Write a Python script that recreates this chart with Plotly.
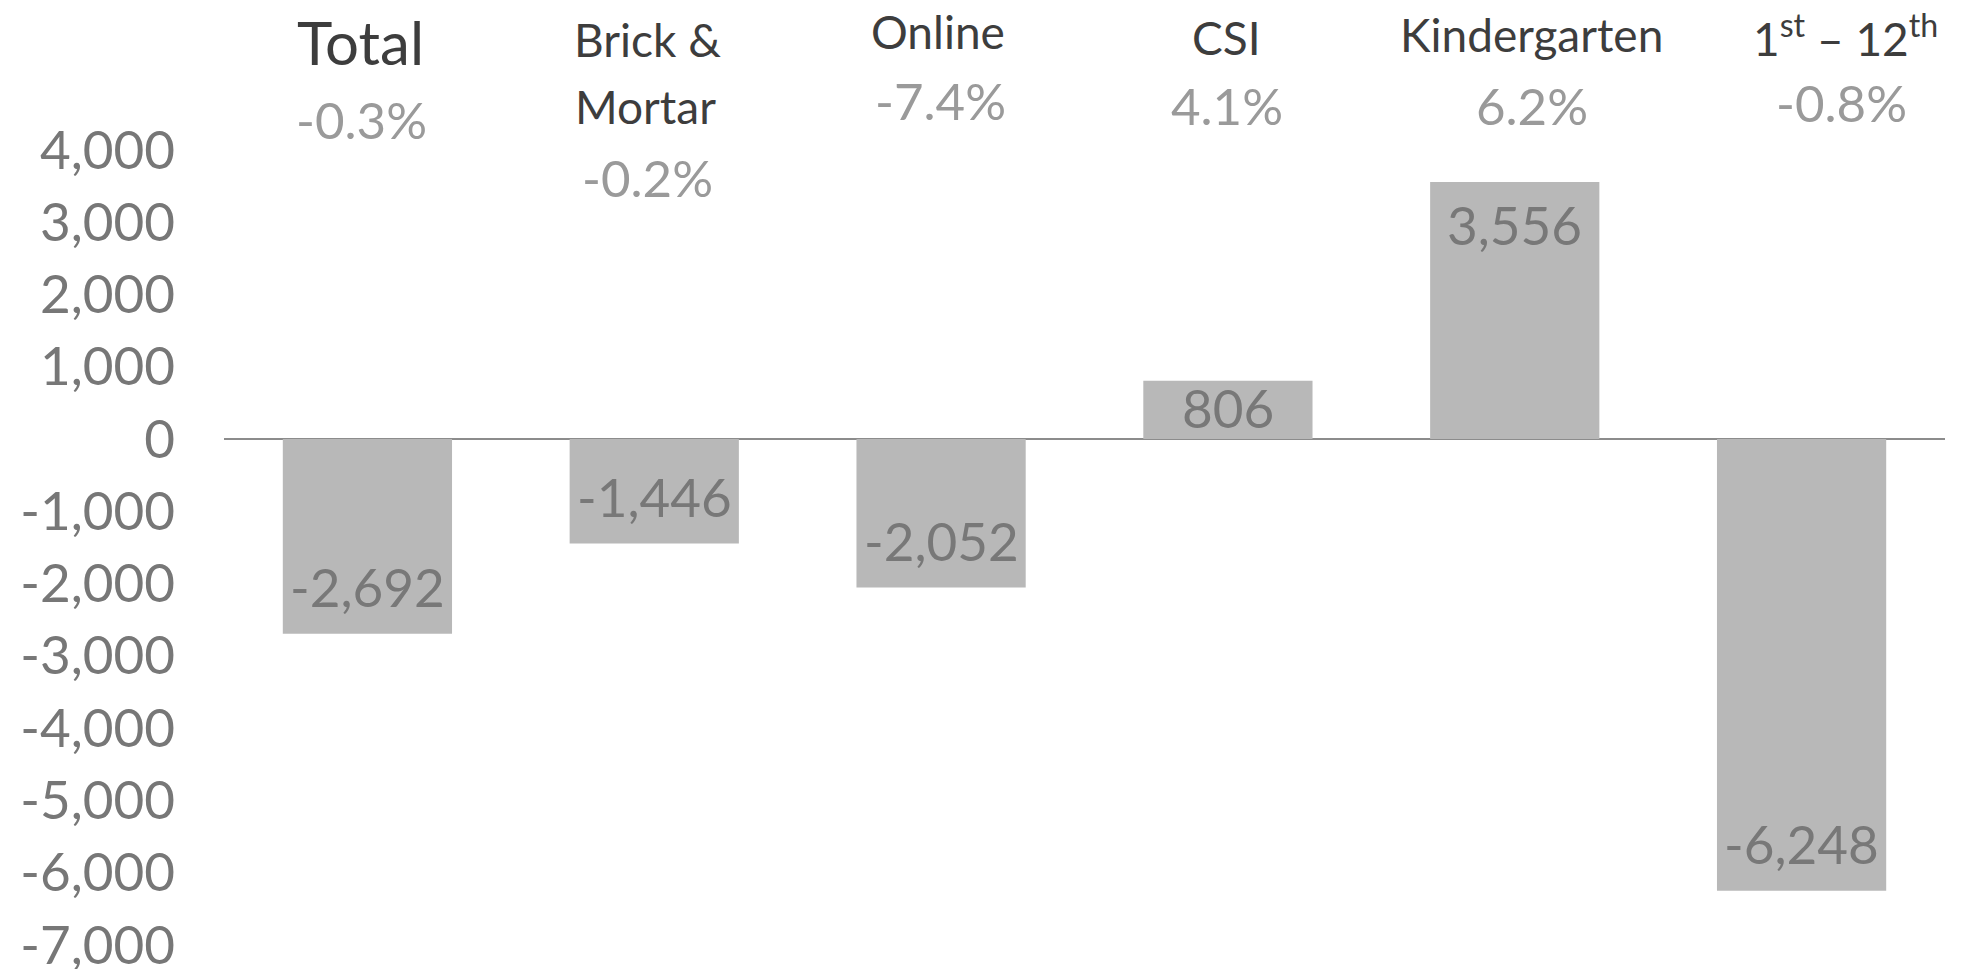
import plotly.graph_objects as go

# ---------------- data ----------------
categories = ["Total", "Brick & Mortar", "Online", "CSI", "Kindergarten", "1st – 12th"]
changes = [-2692, -1446, -2052, 806, 3556, -6248]
pct_changes = ["-0.3%", "-0.2%", "-7.4%", "4.1%", "6.2%", "-0.8%"]
header_lines = [
    ["Total"],
    ["Brick &", "Mortar"],
    ["Online"],
    ["CSI"],
    ["Kindergarten"],
    ["1<sup>st</sup> – 12<sup>th</sup>"],
]
tick_values = list(range(-7000, 4001, 1000))
tick_labels = [f"{v:,}" for v in tick_values]
value_labels = [f"{v:,}" for v in changes]

# ---------------- style / layout constants ----------------
FONT = "Lato"
W, H = 1970, 969
M_L, M_R, M_T, M_B = 224, 25, 150, 24
BAR_COLOR = "#b8b8b8"
LABEL_COLOR = "#787878"
TICK_COLOR = "#777777"
NAME_COLOR = "#3d3d3d"
PCT_COLOR = "#9a9a9a"
LABEL_OFFSET = 620  # data-unit inset of value labels from bar end

# header placement (pixel centres from the top, x shift from bar centre)
name_y_px = [[42], [39, 106], [31], [37], [34], [35]]
name_xshift = [[-7], [-7, -9], [-3], [-1], [17], [44]]
name_size = [[60], [46, 46], [46], [46], [46], [46]]
pct_y_px = [119, 177, 100, 105, 105, 102]
pct_xshift = [-6, -7, -1, -1, 17, 40]

plot_h = H - M_T - M_B


def paper_y(px):
    return (H - M_B - px) / plot_h


fig = go.Figure()
fig.add_trace(
    go.Bar(
        x=categories,
        y=changes,
        marker=dict(color=BAR_COLOR, line=dict(width=0)),
        hoverinfo="skip",
        showlegend=False,
    )
)

annotations = []
# value labels inside the bar ends
for cat, v, lab in zip(categories, changes, value_labels):
    sign = 1 if v > 0 else -1
    inset = min(LABEL_OFFSET, abs(v) / 2)
    annotations.append(
        dict(
            x=cat, y=v - sign * inset, xref="x", yref="y", yshift=2,
            text=lab, showarrow=False, xanchor="center", yanchor="middle",
            font=dict(family=FONT, size=53, color=LABEL_COLOR),
        )
    )

# category headers and percentage changes
for i, cat in enumerate(categories):
    for j, line in enumerate(header_lines[i]):
        annotations.append(
            dict(
                x=cat, xref="x", y=paper_y(name_y_px[i][j]), yref="paper",
                xshift=name_xshift[i][j],
                text=line, showarrow=False, xanchor="center", yanchor="middle",
                font=dict(family=FONT, size=name_size[i][j], color=NAME_COLOR),
            )
        )
    annotations.append(
        dict(
            x=cat, xref="x", y=paper_y(pct_y_px[i]), yref="paper",
            xshift=pct_xshift[i],
            text=pct_changes[i], showarrow=False, xanchor="center", yanchor="middle",
            font=dict(family=FONT, size=51, color=PCT_COLOR),
        )
    )

fig.update_layout(
    template="none",
    width=W,
    height=H,
    margin=dict(l=M_L, r=M_R, t=M_T, b=M_B, pad=0, autoexpand=False),
    paper_bgcolor="white",
    plot_bgcolor="white",
    bargap=0.41,
    font=dict(family=FONT),
    annotations=annotations,
    xaxis=dict(
        type="category",
        range=[-0.5, len(categories) - 0.5],
        showticklabels=False,
        showgrid=False,
        zeroline=False,
        showline=False,
        ticks="",
        automargin=False,
        fixedrange=True,
    ),
    yaxis=dict(
        range=[-7000, 4000],
        tickmode="array",
        tickvals=tick_values,
        ticktext=tick_labels,
        tickfont=dict(family=FONT, size=53, color=TICK_COLOR),
        ticklabelstandoff=48,
        ticklabeloverflow="allow",
        showgrid=False,
        zeroline=True,
        zerolinecolor="#8c8c8c",
        zerolinewidth=2,
        showline=False,
        ticks="",
        automargin=False,
        fixedrange=True,
    ),
)

fig.write_html(
    "out.html",
    config={"displayModeBar": False},
    post_script="document.body.style.margin='0';document.body.style.overflow='hidden';",
)
